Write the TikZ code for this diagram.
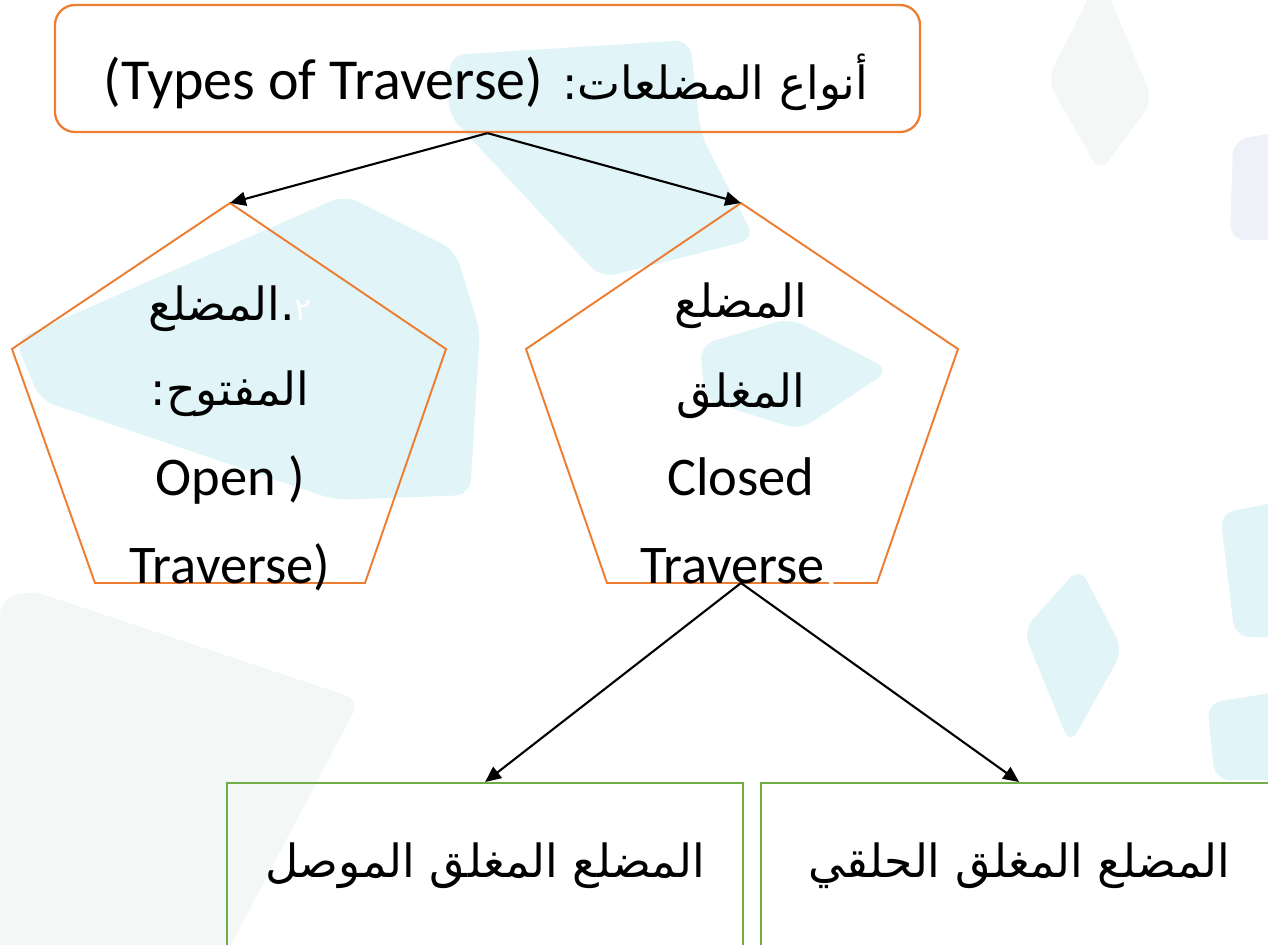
\documentclass[tikz,border=0pt]{standalone}
\usepackage{fontspec}
\setmainfont{Carlito}
\newfontfamily\arabicfont[Script=Arabic]{DejaVu Sans}
\TeXXeTstate=1
\usetikzlibrary{arrows.meta}
\definecolor{boxorange}{HTML}{ED7D31}
\definecolor{leafgreen}{HTML}{70AD47}
\definecolor{bgcyan}{HTML}{E1F5F8}
\definecolor{bgpale}{HTML}{F3F8F7}
\definecolor{bgblue}{HTML}{EEF1F7}
\newcommand{\artext}[1]{{\arabicfont\beginR #1\endR}}

\begin{document}
\begin{tikzpicture}

    \tikzset{
      typebox/.style={
        draw=boxorange,
        line width=1.3pt,
        rounded corners=0.4cm,
        minimum width=17.3cm,
        minimum height=2.54cm,
      },
      penta/.style={draw=boxorange, line width=1.1pt},
      leafbox/.style={
        draw=leafgreen,
        line width=1.3pt,
        minimum width=10.32cm,
        minimum height=3.32cm,
        font=\fontsize{26}{31}\selectfont,
      },
      linetext/.style={anchor=base, inner sep=0pt, font=\fontsize{31}{36}\selectfont},
      arline/.style={linetext, font=\fontsize{26}{31}\selectfont},
      branch/.style={line width=1.2pt, -{Triangle[length=9pt,width=8pt]}},
      backdrop/.style={draw=none, rounded corners=0.3cm},
    }
    \useasboundingbox (0,0) rectangle (25.36,-18.9);
    \clip (0,0) rectangle (25.36,-18.9);

    % backdrop
    \fill[backdrop, bgpale] (0,-12) -- (0.6,-11.8) -- (7.2,-14) -- (4.3,-19.5) -- (0,-19.5) -- cycle;
    \fill[backdrop, bgpale] (22,0.5) -- (23.06,-2) -- (22,-3.46) -- (20.94,-1.6) -- cycle;
    \fill[backdrop, bgcyan] (0.3,-6.8) -- (6.9,-3.9) -- (9.1,-5.0) -- (9.6,-6.6) -- (9.4,-9.9) -- (6.7,-10.0) -- (0.8,-8.0) -- cycle;
    \fill[backdrop, bgcyan] (9.0,-1.1) -- (13.8,-0.8) -- (14.02,-2.7) -- (15.1,-4.78) -- (12.02,-5.56) -- (8.96,-2.28) -- cycle;
    \fill[backdrop, bgcyan] (14.0,-6.9) -- (15.8,-6.36) -- (17.8,-7.4) -- (16.0,-8.6) -- (14.1,-8.0) -- cycle;
    \fill[backdrop, bgcyan] (21.6,-11.34) -- (22.46,-13.0) -- (21.4,-14.9) -- (20.46,-12.6) -- cycle;
    \fill[backdrop, bgcyan] (24.4,-10.26) -- (25.8,-10.0) -- (25.8,-12.74) -- (24.7,-12.74) -- cycle;
    \fill[backdrop, bgcyan] (24.14,-14.06) -- (25.8,-13.8) -- (25.8,-15.6) -- (24.3,-15.6) -- cycle;
    \fill[backdrop, bgblue] (24.66,-2.8) -- (25.8,-2.6) -- (25.8,-4.8) -- (24.6,-4.8) -- cycle;

    % top box
    \node[typebox] (typesbox) at (9.75,-1.37) {};
    \node[arline] (typeslabel) at (9.72,-1.98)
      {\artext{أنواع المضلعات\kern0pt: \beginL\fontsize{33}{38}\selectfont\rmfamily (Types of Traverse)\endL}};

    % pentagons
    \coordinate (open-n) at (4.6,-4.06);
    \coordinate (open-e) at (8.92,-6.98);
    \coordinate (open-se) at (7.3,-11.66);
    \coordinate (open-sw) at (1.9,-11.66);
    \coordinate (open-w) at (0.24,-6.98);
    \coordinate (closed-n) at (14.82,-4.06);
    \coordinate (closed-e) at (19.16,-6.98);
    \coordinate (closed-se) at (17.54,-11.66);
    \coordinate (closed-sw) at (12.14,-11.66);
    \coordinate (closed-w) at (10.52,-6.98);
    \coordinate (closed-s) at (14.82,-11.66);
    \draw[penta] (open-n) -- (open-e) -- (open-se) -- (open-sw) -- (open-w) -- cycle;
    \draw[penta] (closed-n) -- (closed-e) -- (closed-se) -- (closed-sw) -- (closed-w) -- cycle;

    \node[arline] (openar1) at (4.6,-6.4) {\artext{\mbox{\fontsize{18}{20}\selectfont\color{white}٢}.\kern0pt المضلع}};
    \node[arline] (openar2) at (4.6,-8.1) {\artext{المفتوح\kern0pt:}};
    \node[linetext] (openen1) at (4.6,-9.9) {Open )};
    \node[linetext] (openen2) at (4.6,-11.66) {Traverse)};

    \node[arline] (closedar1) at (14.82,-6.34) {\artext{المضلع}};
    \node[arline] (closedar2) at (14.82,-8.14) {\artext{المغلق}};
    \node[linetext] (closeden1) at (14.82,-9.9) {Closed};
    \node[linetext] (closeden2) at (14.82,-11.66) {Traverse\textcolor{white}{)}};

    % closed traverse kinds
    \node[leafbox, anchor=north west] (chained) at (4.52,-15.64) {\artext{المضلع المغلق الموصل}};
    \node[leafbox, anchor=north west] (looped) at (15.2,-15.64) {\artext{المضلع المغلق الحلقي}};

    \draw[branch] (typesbox.south) -- (open-n);
    \draw[branch] (typesbox.south) -- (closed-n);
    \draw[branch] (closed-s) -- (chained.north);
    \draw[branch] (closed-s) -- (looped.north);

\end{tikzpicture}
\end{document}
